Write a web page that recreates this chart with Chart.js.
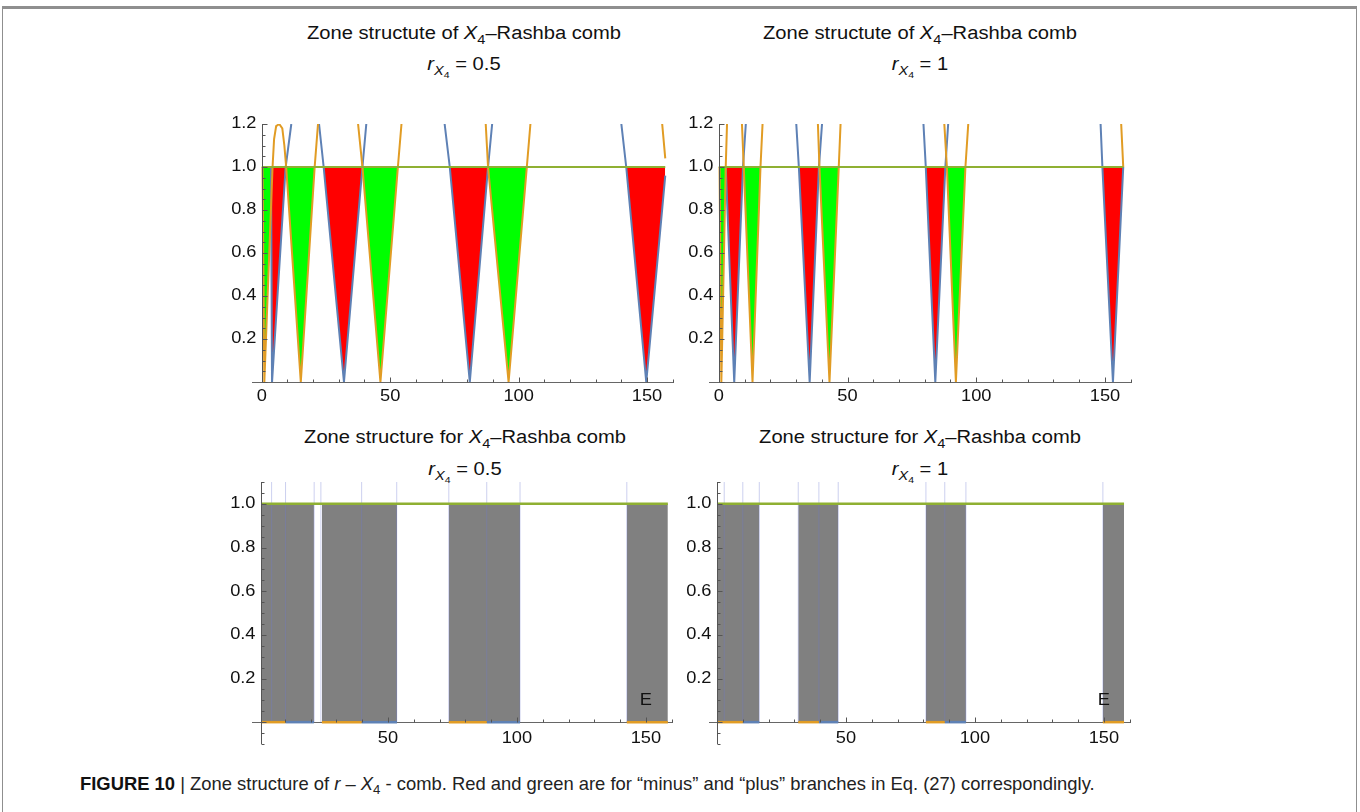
<!DOCTYPE html>
<html>
<head>
<meta charset="utf-8">
<title>Zone structure of r - X4 comb</title>
<script src="https://cdn.jsdelivr.net/npm/chart.js@4.4.1/dist/chart.umd.min.js"></script>
<style>
  html, body { margin: 0; padding: 0; background: #fff; }
  body { width: 1360px; height: 812px; position: relative; overflow: hidden; font-family: "Liberation Sans", Arial, sans-serif; color: #111; }
  #frame { position: absolute; left: 2px; top: 6px; width: 1353px; height: 900px; border: 1px solid #8f8f8f; border-top: 3px solid #8f8f8f; }
  canvas { position: absolute; }
  .ttl { position: absolute; width: 440px; text-align: center; font-size: 18px; line-height: 20px; white-space: nowrap; transform: scaleX(1.12); }
  .ttl sub { font-size: 72%; vertical-align: -0.35em; line-height: 0; }
  #cap { position: absolute; left: 80px; top: 773px; font-family: "Liberation Sans Narrow", "Arial Narrow", "Liberation Sans", sans-serif; font-size: 18.4px; color: #222; white-space: nowrap; }
  #cap b { color: #111; }
  #cap sub { font-size: 72%; vertical-align: -0.3em; line-height: 0; }
</style>
</head>
<body>
<div id="frame"></div>

<div class="ttl" style="left:244px;top:23px">Zone structute of <i>X</i><sub>4</sub>–Rashba comb</div>
<div class="ttl" style="left:244px;top:54px"><i>r</i><sub><i>X</i><sub>4</sub></sub> = 0.5</div>
<div class="ttl" style="left:700px;top:23px">Zone structute of <i>X</i><sub>4</sub>–Rashba comb</div>
<div class="ttl" style="left:700px;top:54px"><i>r</i><sub><i>X</i><sub>4</sub></sub> = 1</div>
<div class="ttl" style="left:245px;top:427px">Zone structure for <i>X</i><sub>4</sub>–Rashba comb</div>
<div class="ttl" style="left:245px;top:459px"><i>r</i><sub><i>X</i><sub>4</sub></sub> = 0.5</div>
<div class="ttl" style="left:700px;top:427px">Zone structure for <i>X</i><sub>4</sub>–Rashba comb</div>
<div class="ttl" style="left:700px;top:459px"><i>r</i><sub><i>X</i><sub>4</sub></sub> = 1</div>

<canvas id="tl" width="500" height="320" style="left:190px;top:100px"></canvas>
<canvas id="tr" width="510" height="320" style="left:650px;top:100px"></canvas>
<canvas id="bl" width="500" height="310" style="left:190px;top:460px"></canvas>
<canvas id="br" width="510" height="310" style="left:650px;top:460px"></canvas>

<div id="cap"><b>FIGURE 10</b> | Zone structure of <i>r</i> – <i>X</i><sub>4</sub> - comb. Red and green are for “minus” and “plus” branches in Eq. (27) correspondingly.</div>

<script>
// ---- top left, r = 0.5 : "minus" branch (blue) and "plus" branch (orange), null = break
const tlBlueX = [3.6, 4.0, 9.3, 11.5, null, 22.3, 24.1, 32.0, 39.2, 40.7, null, 71.2, 73.2, 81.0, 88.1, 89.7, null, 140.0, 141.9, 149.7, 157.1];
const tlBlueY = [1.0, 0.0, 1.0, 1.2, null, 1.2, 1.0, 0.0, 1.0, 1.2, null, 1.2, 1.0, 0.0, 1.0, 1.2, null, 1.2, 1.0, 0.0, 0.96];
const tlOrangeX = [0.3, 1.0, 4.2, 4.8, 5.6, 6.8, 8.0, 8.8, 9.5, 15.2, 20.6, 21.9, null, 37.5, 39.2, 46.2, 53.0, 54.4, null, 87.2, 88.1, 96.1, 103.2, 104.6, null, 155.9, 157.1];
const tlOrangeY = [1.0, 0.0, 1.0, 1.13, 1.19, 1.2, 1.18, 1.1, 1.0, 0.0, 1.0, 1.2, null, 1.2, 1.0, 0.0, 1.0, 1.2, null, 1.2, 1.0, 0.0, 1.0, 1.2, null, 1.2, 1.04];

// ---- top right, r = 1
const trBlueX = [2.7, 6.0, 9.4, 10.5, null, 30.1, 31.1, 35.3, 38.9, 40.1, null, 79.5, 80.4, 84.1, 88.0, 89.1, null, 148.3, 149.0, 153.1, 157.1];
const trBlueY = [1.0, 0.0, 1.0, 1.2, null, 1.2, 1.0, 0.0, 1.0, 1.2, null, 1.2, 1.0, 0.0, 1.0, 1.2, null, 1.2, 1.0, 0.0, 1.0];
const trOrangeX = [0.3, 1.0, 2.7, 3.2, null, 9.0, 9.7, 13.1, 16.2, 17.0, null, 38.5, 39.1, 43.0, 46.6, 47.3, null, 87.6, 88.6, 92.1, 95.8, 96.9, null, 156.3, 157.1];
const trOrangeY = [1.0, 0.0, 1.0, 1.2, null, 1.2, 1.0, 0.0, 1.0, 1.2, null, 1.2, 1.0, 0.0, 1.0, 1.2, null, 1.2, 1.0, 0.0, 1.0, 1.2, null, 1.2, 1.0];

// ---- bottom left, r = 0.5 : allowed zones
const blZoneFrom = [0.8, 24.4, 73.6, 142.6];
const blZoneTo = [21.3, 53.5, 101.2, 158.5];
const blEdges = [4.9, 10.3, 21.4, 24.0, 39.8, 53.4, 73.6, 88.3, 101.2, 142.6];
const blOrangeFrom = [0.8, 24.4, 73.6, 142.6];
const blOrangeTo = [10.3, 39.8, 88.3, 158.5];
const blBlueFrom = [10.3, 39.8, 88.3];
const blBlueTo = [21.3, 53.5, 101.2];

// ---- bottom right, r = 1
const brZoneFrom = [0.0, 31.5, 81.0, 149.6];
const brZoneTo = [16.4, 47.0, 96.5, 157.8];
const brEdges = [2.8, 10.0, 16.4, 31.5, 39.5, 47.0, 81.0, 88.3, 96.5, 149.6];
const brOrangeFrom = [0.0, 31.5, 81.0, 149.6];
const brOrangeTo = [10.0, 39.5, 88.3, 157.8];
const brBlueFrom = [10.0, 39.5, 88.3];
const brBlueTo = [16.4, 47.0, 96.5];

// tick labels
const xLabelsTop = [0, 50, 100, 150];
const xLabelsBottom = [50, 100, 150];
const yLabelsTop = [0.2, 0.4, 0.6, 0.8, 1.0, 1.2];
const yLabelsBottom = [0.2, 0.4, 0.6, 0.8, 1.0];

const BLUE = '#5e81b5';
const ORANGE = '#e19c24';
const OLIVE = '#8fb032';

Chart.defaults.font.family = '"Liberation Sans", Arial, sans-serif';

function pts(xs, ys) {
  return xs.map((x, i) => x === null ? { x: xs[i - 1], y: null } : { x: x, y: ys[i] });
}

function branch(xs, ys, line, fillColor) {
  return {
    data: pts(xs, ys), showLine: true, borderColor: line, borderWidth: 2, pointRadius: 0,
    fill: { target: { value: 1 }, above: 'rgba(0,0,0,0)', below: fillColor }
  };
}

function hline(x0, x1, y, color, w) {
  return { data: [{ x: x0, y: y }, { x: x1, y: y }], showLine: true, borderColor: color, borderWidth: w, pointRadius: 0, fill: false };
}

function segs(from, to, color) {
  return from.map((a, i) => hline(a, to[i], 0, color, 2.5));
}

function zones(from, to) {
  return from.map((a, i) => ({
    data: [{ x: a, y: 1 }, { x: to[i], y: 1 }], showLine: true, borderWidth: 0, pointRadius: 0,
    borderColor: 'rgba(0,0,0,0)', backgroundColor: '#808080', fill: 'origin'
  }));
}

function edges(xs, top) {
  return xs.map(x => ({
    data: [{ x: x, y: 0 }, { x: x, y: top }], showLine: true, borderWidth: 1, pointRadius: 0,
    borderColor: 'rgba(110,120,210,0.35)', fill: false
  }));
}

function stretchedText(ctx, text, x, y, sx) {
  ctx.save();
  ctx.translate(x, y);
  ctx.scale(sx, 1);
  ctx.fillText(text, 0, 0);
  ctx.restore();
}

// Mathematica-like axes: lines through the origin, inward ticks, labels
const axesPlugin = {
  id: 'axes',
  beforeDatasetsDraw(chart, args, o) {
    const { ctx, chartArea: a } = chart;
    const px0 = Math.round(chart.scales.x.getPixelForValue(o.axisX)) + 0.5;
    const py0 = Math.round(chart.scales.y.getPixelForValue(0)) + 0.5;
    ctx.save();
    ctx.strokeStyle = '#666';
    ctx.lineWidth = 1;
    ctx.beginPath();
    ctx.moveTo(a.left, py0); ctx.lineTo(a.right, py0);
    ctx.moveTo(px0, a.top); ctx.lineTo(px0, a.bottom);
    ctx.stroke();
    ctx.restore();
  },
  afterDatasetsDraw(chart, args, o) {
    const { ctx } = chart;
    const xs = chart.scales.x, ys = chart.scales.y;
    const px0 = Math.round(xs.getPixelForValue(o.axisX)) + 0.5;
    const py0 = Math.round(ys.getPixelForValue(0)) + 0.5;
    ctx.save();
    ctx.strokeStyle = '#555';
    ctx.lineWidth = 1;
    ctx.beginPath();
    ctx.moveTo(px0, chart.chartArea.top); ctx.lineTo(px0, chart.chartArea.bottom);
    xs.ticks.forEach(t => {
      if (t.value <= o.axisX) return;
      const p = Math.round(xs.getPixelForValue(t.value)) + 0.5;
      const len = t.value % 50 === 0 ? 5 : 3;
      ctx.moveTo(p, py0); ctx.lineTo(p, py0 - len);
    });
    ys.ticks.forEach(t => {
      const p = Math.round(ys.getPixelForValue(t.value)) + 0.5;
      const major = Math.abs(t.value * 5 - Math.round(t.value * 5)) < 1e-6;
      ctx.moveTo(px0, p); ctx.lineTo(px0 + (major ? 5 : 3), p);
    });
    ctx.stroke();
    ctx.fillStyle = '#111';
    ctx.font = '16px "Liberation Sans", Arial, sans-serif';
    ctx.textAlign = 'center';
    ctx.textBaseline = 'top';
    o.xLabels.forEach(v => stretchedText(ctx, String(v), xs.getPixelForValue(v), py0 + o.xPad, 1.14));
    ctx.textAlign = 'right';
    ctx.textBaseline = 'middle';
    o.yLabels.forEach(v => stretchedText(ctx, v.toFixed(1), px0 - 6, ys.getPixelForValue(v), 1.14));
    if (o.mark) {
      ctx.textAlign = 'center';
      stretchedText(ctx, o.mark.text, xs.getPixelForValue(o.mark.x), ys.getPixelForValue(o.mark.y), 1.14);
    }
    ctx.restore();
  }
};

function panel(id, pad, xr, yr, axisX, xLabels, yLabels, xPad, datasets, mark) {
  new Chart(document.getElementById(id), {
    type: 'scatter',
    data: { datasets: datasets },
    options: {
      responsive: false,
      animation: false,
      layout: { padding: pad },
      plugins: {
        legend: { display: false },
        tooltip: { enabled: false },
        filler: { drawTime: 'beforeDatasetsDraw' },
        axes: { axisX: axisX, xLabels: xLabels, yLabels: yLabels, xPad: xPad, mark: mark }
      },
      scales: {
        x: {
          type: 'linear', min: xr[0], max: xr[1], position: { y: 0 },
          grid: { display: false, drawTicks: false }, border: { display: false },
          ticks: { display: false, stepSize: 10, includeBounds: false }
        },
        y: {
          type: 'linear', min: yr[0], max: yr[1], position: { x: axisX },
          grid: { display: false, drawTicks: false }, border: { display: false },
          ticks: { display: false, stepSize: 0.05, includeBounds: false }
        }
      }
    },
    plugins: [axesPlugin]
  });
}

// top left
panel('tl', { left: 62, top: 24, right: 16, bottom: 38 }, [-3.8, 160.5], [0, 1.2], 0, xLabelsTop, yLabelsTop, 6, [
  hline(0, 157.1, 1, OLIVE, 2),
  branch(tlOrangeX, tlOrangeY, ORANGE, '#00ff00'),
  branch(tlBlueX, tlBlueY, BLUE, '#ff0000')
], null);

// top right
panel('tr', { left: 59, top: 24, right: 28, bottom: 38 }, [-3.8, 160.5], [0, 1.2], 0, xLabelsTop, yLabelsTop, 6, [
  hline(0, 157.1, 1, OLIVE, 2),
  branch(trOrangeX, trOrangeY, ORANGE, '#00ff00'),
  branch(trBlueX, trBlueY, BLUE, '#ff0000')
], null);

// bottom left
panel('bl', { left: 62, top: 22, right: 17, bottom: 26 }, [-2.7, 160.5], [-0.1, 1.1], 0.8, xLabelsBottom, yLabelsBottom, 8, [
  hline(0.8, 158.5, 1, OLIVE, 2.5),
  ...segs(blOrangeFrom, blOrangeTo, ORANGE),
  ...segs(blBlueFrom, blBlueTo, BLUE),
  ...edges(blEdges, 1.1),
  ...zones(blZoneFrom, blZoneTo)
], { x: 150, y: 0.1, text: 'E' });

// bottom right
panel('br', { left: 59, top: 22, right: 29, bottom: 26 }, [-3.1, 160.5], [-0.1, 1.1], 0, xLabelsBottom, yLabelsBottom, 8, [
  hline(0, 157.8, 1, OLIVE, 2.5),
  ...segs(brOrangeFrom, brOrangeTo, ORANGE),
  ...segs(brBlueFrom, brBlueTo, BLUE),
  ...edges(brEdges, 1.1),
  ...zones(brZoneFrom, brZoneTo)
], { x: 150, y: 0.1, text: 'E' });
</script>
</body>
</html>
